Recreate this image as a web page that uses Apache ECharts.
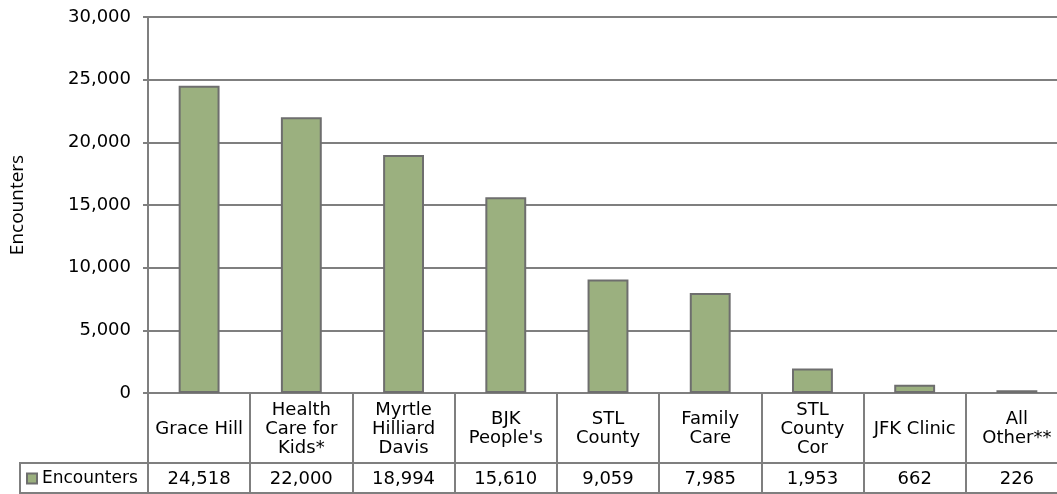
<!DOCTYPE html>
<html>
<head>
<meta charset="utf-8">
<script src="https://cdn.jsdelivr.net/npm/echarts@6/dist/echarts.min.js"></script>
<style>
  html, body { margin: 0; padding: 0; background: #fff; overflow: hidden; }
  #chart { width: 1070px; height: 494px; }
</style>
</head>
<body>
<div id="chart"></div>
<script>
const categories = ['Grace Hill', 'Health\nCare for\nKids*', 'Myrtle\nHilliard\nDavis', "BJK\nPeople's", 'STL\nCounty', 'Family\nCare', 'STL\nCounty\nCor', 'JFK Clinic', 'All\nOther**']
const encounters = [24518, 22000, 18994, 15610, 9059, 7985, 1953, 662, 226]
const yTicks = [0, 5000, 10000, 15000, 20000, 25000, 30000]

const font = 'DejaVu Sans'
const fontSize = 18
const lineColor = '#7f7f7f'
const fmt = (v) => v.toLocaleString('en-US')

const chart = echarts.init(document.getElementById('chart'))

// table rows under the plot share the bar axis layout
const tableAxis = (idx, labels) => ({
    type: 'category',
    gridIndex: idx,
    data: labels,
    axisLine: { show: true, lineStyle: { color: lineColor, width: 2 } },
    axisTick: { show: false },
    splitLine: { show: true, lineStyle: { color: lineColor, width: 2 } },
    axisLabel: { show: false }
})

chart.setOption({
    animation: false,
    textStyle: { fontFamily: font },
    grid: [
        { left: 148, top: 17, width: 920, height: 376, outerBoundsMode: 'none' },
        { left: 148, top: 393, width: 920, height: 70, outerBoundsMode: 'none' },
        { left: 148, top: 463, width: 920, height: 30, outerBoundsMode: 'none' }
    ],
    legend: {
        left: 26,
        top: 470,
        itemWidth: 10,
        itemHeight: 10,
        itemGap: 4,
        icon: 'rect',
        padding: 0,
        textStyle: { fontFamily: font, fontSize: 17, color: '#000', padding: [0, 0, 0, 0] },
        data: ['Encounters']
    },
    xAxis: [
        {
            type: 'category',
            gridIndex: 0,
            data: categories,
            axisLine: { show: true, lineStyle: { color: lineColor, width: 2 } },
            axisTick: { show: false },
            axisLabel: {
                interval: 0,
                margin: 36,
                verticalAlign: 'middle',
                align: 'center',
                fontFamily: font,
                fontSize: fontSize,
                lineHeight: 19,
                color: '#000'
            }
        },
        tableAxis(1, categories),
        {
            ...tableAxis(2, encounters.map(fmt)),
            axisLabel: {
                show: true,
                inside: true,
                interval: 0,
                margin: 14,
                verticalAlign: 'middle',
                fontFamily: font,
                fontSize: fontSize,
                color: '#000'
            }
        }
    ],
    yAxis: [
        {
            type: 'value',
            gridIndex: 0,
            min: yTicks[0],
            max: yTicks[yTicks.length - 1],
            interval: yTicks[1] - yTicks[0],
            name: 'Encounters',
            nameLocation: 'middle',
            nameGap: 121,
            nameTextStyle: { fontFamily: 'Open Sans', fontSize: 19, color: '#000' },
            axisLine: { show: true, lineStyle: { color: lineColor, width: 2 } },
            axisTick: { show: true, length: 5, lineStyle: { color: lineColor, width: 2 } },
            axisLabel: {
                margin: 17,
                fontFamily: font,
                fontSize: fontSize,
                color: '#000',
                formatter: (v) => fmt(v)
            },
            splitLine: { show: true, lineStyle: { color: lineColor, width: 2 } }
        },
        { type: 'value', gridIndex: 1, show: false },
        { type: 'value', gridIndex: 2, show: false }
    ],
    series: [
        {
            name: 'Encounters',
            type: 'bar',
            xAxisIndex: 0,
            yAxisIndex: 0,
            barWidth: '40%',
            itemStyle: { color: '#9BB07F', borderColor: '#6E6E6E', borderWidth: 2 },
            data: encounters
        }
    ],
    graphic: [
        { type: 'line', shape: { x1: 20, y1: 463, x2: 148, y2: 463 }, style: { stroke: lineColor, lineWidth: 2 } },
        { type: 'line', shape: { x1: 20, y1: 462, x2: 20, y2: 494 }, style: { stroke: lineColor, lineWidth: 2 } },
        { type: 'line', shape: { x1: 20, y1: 493, x2: 148, y2: 493 }, style: { stroke: lineColor, lineWidth: 2 } }
    ]
})
</script>
</body>
</html>
